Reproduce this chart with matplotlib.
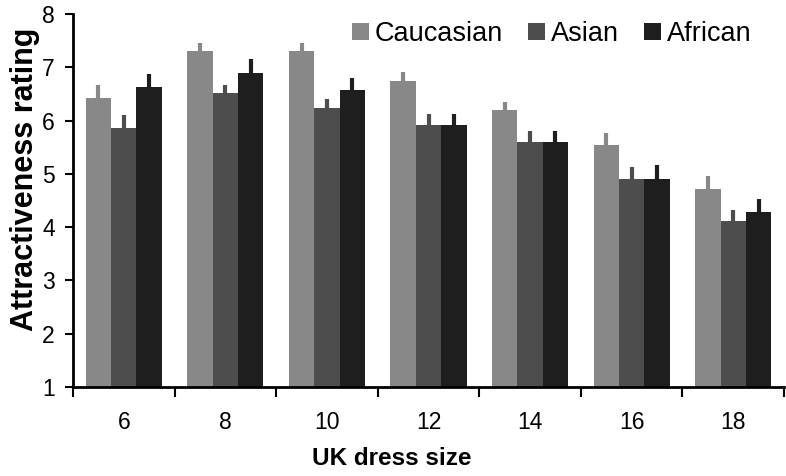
import numpy as np
import matplotlib.pyplot as plt
from matplotlib.ticker import FixedLocator, NullFormatter

plt.rcParams['font.family'] = ['Liberation Sans', 'DejaVu Sans']
plt.rcParams['font.size'] = 16.5

sizes = ['6', '8', '10', '12', '14', '16', '18']
caucasian = [6.43, 7.30, 7.30, 6.75, 6.19, 5.55, 4.72]
asian = [5.86, 6.51, 6.23, 5.91, 5.59, 4.91, 4.12]
african = [6.63, 6.90, 6.58, 5.91, 5.59, 4.91, 4.28]
err_cau = [0.23, 0.16, 0.16, 0.16, 0.16, 0.21, 0.24]
err_asi = [0.25, 0.15, 0.17, 0.21, 0.21, 0.21, 0.21]
err_afr = [0.24, 0.25, 0.21, 0.21, 0.21, 0.25, 0.24]

series = [('Caucasian', caucasian, err_cau, '#888888'),
          ('Asian', asian, err_asi, '#4d4d4d'),
          ('African', african, err_afr, '#1e1e1e')]

fig = plt.figure(figsize=(7.86, 4.76), dpi=100)
ax = fig.add_axes([73/786, 1-387/476, 711/786, (387-14)/476])

x = np.arange(len(sizes))
w = 0.25
for i, (name, vals, err, col) in enumerate(series):
    xs = x + (i-1)*w
    ax.bar(xs, np.array(vals)-1, w, bottom=1, color=col, label=name, zorder=2)
    ax.errorbar(xs, vals, yerr=[np.zeros(len(vals)), err], fmt='none',
                ecolor=col, elinewidth=3, capsize=0, zorder=3)

ax.set_xlim(-0.5, len(sizes)-0.5)
ax.set_ylim(1, 8)
ax.set_yticks(range(1, 9))
ax.xaxis.set_major_locator(FixedLocator(np.arange(len(sizes)+1)-0.5))
ax.xaxis.set_major_formatter(NullFormatter())
ax.set_xticks(x, minor=True)
ax.set_xticklabels(sizes, minor=True)
ax.tick_params(axis='x', which='major', direction='out', length=7, width=1.5)
ax.tick_params(axis='x', which='minor', length=0, pad=17)
ax.tick_params(axis='y', direction='out', length=6, width=1.5, pad=7)

for s in ['top', 'right']:
    ax.spines[s].set_visible(False)
for s in ['left', 'bottom']:
    ax.spines[s].set_linewidth(2)

ax.set_xlabel('UK dress size', fontweight='bold', fontsize=17.5)
ax.set_ylabel('Attractiveness rating', fontweight='bold', fontsize=22)
ax.xaxis.set_label_coords(0.449, -0.161)
ax.yaxis.set_label_coords(-0.047, 0.558)

ax.legend(loc='center right', ncol=3, frameon=False, fontsize=19.5,
          handlelength=0.63, handleheight=0.63, handletextpad=0.22,
          columnspacing=0.93, borderpad=0, borderaxespad=0,
          bbox_to_anchor=(752/786, 1-34/476), bbox_transform=fig.transFigure)

fig.savefig('out.png', dpi=100)
